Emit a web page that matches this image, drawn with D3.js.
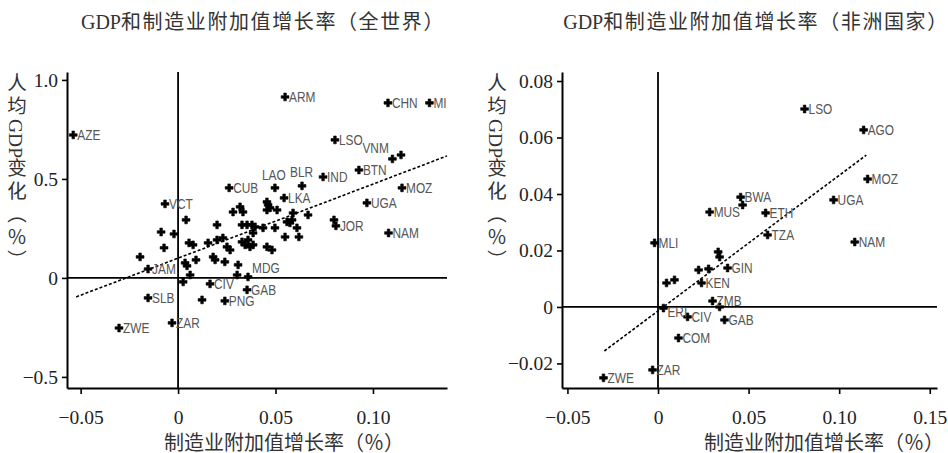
<!DOCTYPE html>
<html>
<head>
<meta charset="utf-8">
<script src="https://cdn.jsdelivr.net/npm/d3@7"></script>
<style>
  html, body { margin: 0; padding: 0; background: #fff; }
  svg { display: block; }
</style>
</head>
<body>
<svg id="chart" width="948" height="453"></svg>
<script>
// ---------------- DATA ----------------
// World panel
const worldTitle = "GDP和制造业附加值增长率（全世界）";
const worldLabels = ["AZE","ARM","CHN","MI","LSO","VNM","","BTN","IND","LAO","BLR","LKA","MOZ","UGA","","JOR","NAM","CUB","VCT","JAM","MDG","GAB","CIV","PNG","SLB","ZWE","ZAR",
  "","","","","","","","","","","","","","","","","","","","","","","","","","","","","","","","","","","","","","","","","","","","","","","","","","","","","",""];
const worldX = [-0.0538,0.0549,0.1077,0.129,0.0805,0.110,0.1144,0.0928,0.0744,0.0497,0.0636,0.0544,0.1149,0.0969,0.080,0.081,0.108,0.0262,-0.0067,-0.0154,0.0359,0.0354,0.0164,0.024,-0.0154,-0.0303,-0.0031,
  0.0123,0.0041,-0.0087,-0.0021,-0.0072,-0.0195,0.0056,0.0077,0.0036,0.0046,0.0062,0.0026,0.0092,0.0154,0.020,0.020,0.023,0.018,0.019,0.024,0.0251,0.0267,0.0282,0.0318,0.0333,0.0328,0.0354,0.0379,0.0395,0.0328,0.0344,0.0369,0.0385,0.0359,0.0385,0.0308,0.0303,0.0456,0.0462,0.0472,0.0456,0.0508,0.0436,0.0497,0.0456,0.0482,0.0559,0.0574,0.0585,0.0549,0.061,0.062,0.059,0.0667,0.0692,0.0226,0.0318,0.024,0.042];
const worldY = [0.722,0.914,0.884,0.884,0.697,0.601,0.621,0.545,0.510,0.455,0.465,0.404,0.455,0.379,0.293,0.263,0.227,0.455,0.374,0.045,0.005,-0.060,-0.030,-0.116,-0.101,-0.253,-0.227,
  -0.111,0.293,0.232,0.222,0.152,0.106,0.177,0.167,0.076,0.061,0.015,-0.02,0.091,0.177,0.268,0.192,0.202,0.106,0.091,0.081,0.157,0.141,0.333,0.359,0.333,0.268,0.268,0.268,0.258,0.182,0.167,0.157,0.167,0.192,0.227,0.066,0.015,0.384,0.369,0.354,0.343,0.343,0.253,0.253,0.157,0.141,0.283,0.278,0.293,0.207,0.253,0.207,0.328,0.318,0.343,0.126,0.076,0.116,0.253];
const worldFitX = [-0.0523, 0.138];
const worldFitY = [-0.096, 0.616];
const worldXTicks = [-0.05, 0, 0.05, 0.10];
const worldXTickLabels = ["\u22120.05", "0", "0.05", "0.10"];
const worldYTicks = [-0.5, 0, 0.5, 1.0];
const worldYTickLabels = ["\u22120.5", "0", "0.5", "1.0"];

// Africa panel
const africaTitle = "GDP和制造业附加值增长率（非洲国家）";
const africaLabels = ["LSO","AGO","MOZ","UGA","BWA","","MUS","ETH","TZA","NAM","","","MLI","","","GIN","KEN","","","ZMB","","ERI","CIV","GAB","COM","ZAR","ZWE"];
const africaX = [0.0809,0.1135,0.1157,0.0969,0.0456,0.0467,0.0285,0.0594,0.0605,0.1086,0.0332,0.034,-0.0019,0.0224,0.0279,0.0384,0.0240,0.0091,0.0047,0.0301,0.034,0.003,0.0163,0.0367,0.0113,-0.003,-0.0301];
const africaY = [0.0701,0.0627,0.0453,0.0379,0.0389,0.0361,0.0336,0.0333,0.0255,0.0230,0.0195,0.0177,0.0227,0.0131,0.0135,0.0138,0.0085,0.0096,0.0085,0.0021,0.0,-0.0004,-0.0035,-0.0046,-0.011,-0.0223,-0.0251];
const africaFitX = [-0.0296, 0.115];
const africaFitY = [-0.0156, 0.0538];
const africaXTicks = [-0.05, 0, 0.05, 0.10, 0.15];
const africaXTickLabels = ["\u22120.05", "0", "0.05", "0.10", "0.15"];
const africaYTicks = [-0.02, 0, 0.02, 0.04, 0.06, 0.08];
const africaYTickLabels = ["\u22120.02", "0", "0.02", "0.04", "0.06", "0.08"];

const xAxisTitle = "制造业附加值增长率（％）";
const yAxisTitle = "人均GDP变化（％）";

// ---------------- LAYOUT ----------------
const svg = d3.select("#chart");
const serif = "'Liberation Serif', 'Noto Sans CJK SC', serif";
const cjk = "'Liberation Serif', 'Noto Sans CJK SC', sans-serif";
const narrow = "'Liberation Sans Narrow', 'Liberation Sans', sans-serif";

// split a string into Latin and CJK runs; letter-spacing only on CJK runs
function addRuns(textSel, str, ls) {
  str.match(/[\x00-\x7F]+|[^\x00-\x7F]+/g).forEach(run => {
    textSel.append("tspan")
      .attr("letter-spacing", /^[\x00-\x7F]/.test(run) ? 0 : ls)
      .text(run);
  });
}

function drawPanel(p) {
  const g = svg.append("g");
  const x = d3.scaleLinear().domain(p.xDomain).range([p.left, p.right]);
  const y = d3.scaleLinear().domain(p.yDomain).range([p.bottom, p.top]);

  // title
  const t = g.append("text").attr("x", p.titleX).attr("y", 29)
    .attr("text-anchor", "middle").attr("font-family", cjk).attr("font-size", 20)
    .attr("fill", "#333");
  addRuns(t, p.title, 1.6);

  // zero lines
  g.append("line").attr("x1", x(0)).attr("x2", x(0)).attr("y1", p.top).attr("y2", p.bottom)
    .attr("stroke", "#000").attr("stroke-width", 1.8);
  g.append("line").attr("x1", p.left).attr("x2", p.right).attr("y1", y(0)).attr("y2", y(0))
    .attr("stroke", "#000").attr("stroke-width", 1.8);

  // axes
  const xa = d3.axisBottom(x).tickValues(p.xTicks).tickSize(6).tickSizeOuter(0).tickPadding(16)
    .tickFormat((d, i) => p.xTickLabels[i]);
  const ya = d3.axisLeft(y).tickValues(p.yTicks).tickSize(5).tickSizeOuter(0).tickPadding(4)
    .tickFormat((d, i) => p.yTickLabels[i]);
  const gx = g.append("g").attr("transform", `translate(0,${p.bottom})`).call(xa);
  const gy = g.append("g").attr("transform", `translate(${p.left},0)`).call(ya);
  [gx, gy].forEach(a => {
    a.select(".domain").attr("stroke", "#000").attr("stroke-width", 2);
    a.selectAll(".tick line").attr("stroke", "#000").attr("stroke-width", 1.6);
    a.selectAll(".tick text").attr("font-family", serif).attr("font-size", 19.5).attr("fill", "#222");
  });

  // axis titles
  g.append("text").attr("x", p.xTitleX).attr("y", 449.5).attr("text-anchor", "middle")
    .attr("font-family", cjk).attr("font-size", 20).attr("fill", "#333").text(xAxisTitle);
  const yt = g.append("text").attr("x", p.yTitleX).attr("y", 73)
    .style("writing-mode", "vertical-rl").style("text-orientation", "mixed")
    .attr("font-family", cjk).attr("font-size", 19.5).attr("fill", "#333");
  addRuns(yt, yAxisTitle, 3.5);

  // regression line
  const line = d3.line().x(d => x(d[0])).y(d => y(d[1]));
  g.append("path").datum(d3.zip(p.fitX, p.fitY)).attr("d", line)
    .attr("fill", "none").attr("stroke", "#000").attr("stroke-width", 1.6).attr("stroke-dasharray", "3,2");

  // points
  const pts = d3.zip(p.xs, p.ys, p.labels);
  const sym = d3.symbol().type(d3.symbolCross).size(34);
  g.append("g").selectAll("path").data(pts).join("path")
    .attr("transform", d => `translate(${x(d[0])},${y(d[1])})`)
    .attr("d", sym).attr("fill", "#000").attr("stroke", "#000").attr("stroke-width", 0.6);

  // labels
  g.append("g").selectAll("text").data(pts.filter(d => d[2])).join("text")
    .attr("transform", d => {
      const o = p.offsets[d[2]] || [4, 5];
      return `translate(${x(d[0]) + o[0]},${y(d[1]) + o[1]}) scale(0.82,1)`;
    })
    .attr("font-family", narrow).attr("font-size", 14.5).attr("fill", "#555")
    .text(d => d[2]);
}

drawPanel({
  title: worldTitle, titleX: 263,
  left: 67, right: 447, top: 72, bottom: 388,
  xDomain: [-0.057, 0.138], yDomain: [-0.556, 1.04],
  xTicks: worldXTicks, xTickLabels: worldXTickLabels,
  yTicks: worldYTicks, yTickLabels: worldYTickLabels,
  xTitleX: 284, yTitleX: 15,
  fitX: worldFitX, fitY: worldFitY,
  xs: worldX, ys: worldY, labels: worldLabels,
  offsets: { LAO: [-13, -8], BLR: [-12, -9], VNM: [-30, -6], MDG: [4, -4] }
});

drawPanel({
  title: africaTitle, titleX: 756,
  left: 562, right: 937, top: 72, bottom: 388,
  xDomain: [-0.053, 0.154], yDomain: [-0.0287, 0.0832],
  xTicks: africaXTicks, xTickLabels: africaXTickLabels,
  yTicks: africaYTicks, yTickLabels: africaYTickLabels,
  xTitleX: 824, yTitleX: 495,
  fitX: africaFitX, fitY: africaFitY,
  xs: africaX, ys: africaY, labels: africaLabels,
  offsets: { ERI: [4, 9] }
});
</script>
</body>
</html>
